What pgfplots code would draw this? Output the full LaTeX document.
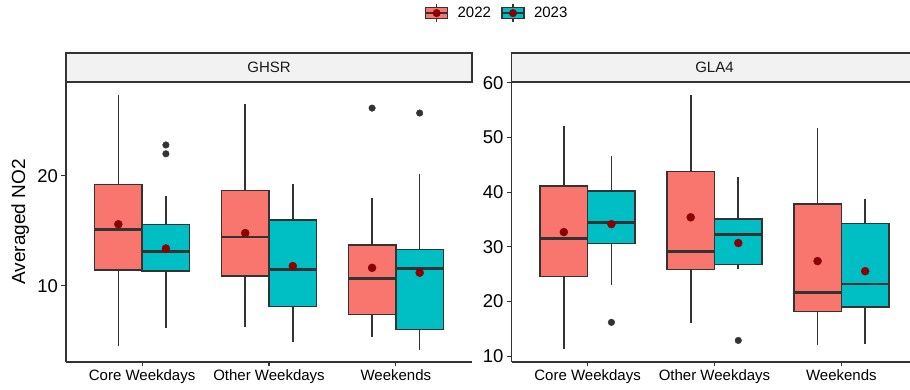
\documentclass[border=0pt]{standalone}
\usepackage{fontspec}
\setmainfont{Liberation Sans}
\usepackage{pgfplots}
\pgfplotsset{compat=1.18}
\usepgfplotslibrary{statistics}
\definecolor{c22}{HTML}{F8766D}
\definecolor{c23}{HTML}{00BFC4}
\definecolor{meanred}{HTML}{8B0000}
\definecolor{dgray}{HTML}{333333}
\definecolor{stripgray}{HTML}{F2F2F2}
\definecolor{txtgray}{HTML}{1A1A1A}

\pgfplotsset{
 facet/.style={
   scale only axis, width=406pt, height=280pt,
   clip=false,
   xmin=0.4, xmax=3.6, xtick={1,2,3},
   xticklabels={Core Weekdays,Other Weekdays,Weekends},
   axis x line*=bottom, axis y line*=left,
   axis line style={-, draw=dgray, line width=1.1pt},
   tick style={draw=dgray, line width=1.1pt},
   tick align=outside, major tick length=4.5pt,
   /pgf/number format/assume math mode=true,
   x tick label style={font=\fontsize{15}{18}\selectfont, text=black},
   y tick label style={font=\fontsize{18.5}{22}\selectfont, text=black},
   boxplot/draw direction=y,
   boxplot/box extend=0.375,
   boxplot/whisker extend=0,
   boxplot/every box/.style={draw=dgray, line width=1.5pt},
   boxplot/every whisker/.style={draw=dgray, line width=1.6pt},
   boxplot/every median/.style={draw=dgray, line width=2.8pt},
 },
 b22/.style={draw=dgray, line width=1.5pt, fill=c22, forget plot},
 b23/.style={draw=dgray, line width=1.5pt, fill=c23, forget plot},
 meanpt/.style={only marks, mark=*, mark size=4pt, color=meanred, forget plot},
 outpt/.style={only marks, mark=*, mark size=3.3pt, color=dgray, forget plot},
}

\begin{document}
\begin{tikzpicture}
\useasboundingbox (0,0) rectangle (910pt,390pt);
% ---------------- GHSR ----------------
\begin{axis}[facet, at={(66pt,28pt)}, anchor=south west,
  ymin=3.09, ymax=28.52, ytick={10,20},
  ylabel={Averaged NO2},
  ylabel style={font=\fontsize{19}{22}\selectfont, at={(axis description cs:-0.113,0.5)}, anchor=center},
  legend style={at={(1.0616,1.246)}, anchor=center, draw=none, fill=none,
    font=\fontsize{15}{18}\selectfont, legend columns=2,
    /tikz/every odd column/.append style={column sep=7pt},
    /tikz/every even column/.append style={column sep=8pt}},
  legend cell align=left]
\addplot[b22, boxplot prepared={draw position=0.8125, lower whisker=4.55, lower quartile=11.45, median=15.15, upper quartile=19.2, upper whisker=27.3}] coordinates {};
\addplot[b23, boxplot prepared={draw position=1.1875, lower whisker=6.15, lower quartile=11.36, median=13.1, upper quartile=15.6, upper whisker=18.2}] coordinates {};
\addplot[b22, boxplot prepared={draw position=1.8125, lower whisker=6.27, lower quartile=10.9, median=14.45, upper quartile=18.67, upper whisker=26.5}] coordinates {};
\addplot[b23, boxplot prepared={draw position=2.1875, lower whisker=4.9, lower quartile=8.13, median=11.5, upper quartile=16.0, upper whisker=19.25}] coordinates {};
\addplot[b22, boxplot prepared={draw position=2.8125, lower whisker=5.4, lower quartile=7.4, median=10.67, upper quartile=13.73, upper whisker=17.97}] coordinates {};
\addplot[b23, boxplot prepared={draw position=3.1875, lower whisker=4.2, lower quartile=6.03, median=11.6, upper quartile=13.3, upper whisker=20.2}] coordinates {};
\addplot[outpt] coordinates {(1.1875,22.8) (1.1875,22.0) (2.8125,26.15) (3.1875,25.7)};
\addplot[meanpt] coordinates {(0.8125,15.6) (1.1875,13.4) (1.8125,14.8) (2.1875,11.8) (2.8125,11.64) (3.1875,11.2)};
\draw[fill=stripgray, draw=dgray, line width=1.1pt] (rel axis cs:0,1) rectangle (rel axis cs:1,1.1036);
\node[font=\fontsize{15}{18}\selectfont, text=txtgray] at (rel axis cs:0.5,1.0518) {GHSR};
\addlegendimage{legend image code/.code={
  \draw[dgray, line width=1.2pt] (11pt,-9pt)--(11pt,9pt);
  \draw[dgray, line width=1.2pt, fill=c22] (0pt,-5.5pt) rectangle (22pt,5.5pt);
  \draw[dgray, line width=2pt] (0pt,0pt)--(22pt,0pt);
  \fill[meanred] (11pt,0pt) circle (3.8pt);}}
\addlegendentry{2022}
\addlegendimage{legend image code/.code={
  \draw[dgray, line width=1.2pt] (11pt,-9pt)--(11pt,9pt);
  \draw[dgray, line width=1.2pt, fill=c23] (0pt,-5.5pt) rectangle (22pt,5.5pt);
  \draw[dgray, line width=2pt] (0pt,0pt)--(22pt,0pt);
  \fill[meanred] (11pt,0pt) circle (3.8pt);}}
\addlegendentry{2023}
\end{axis}
% ---------------- GLA4 ----------------
\begin{axis}[facet, at={(511.5pt,28pt)}, anchor=south west,
  ymin=8.96, ymax=60.12, ytick={10,20,30,40,50,60}]
\addplot[b22, boxplot prepared={draw position=0.8125, lower whisker=11.28, lower quartile=24.57, median=31.5, upper quartile=41.1, upper whisker=52.07}] coordinates {};
\addplot[b23, boxplot prepared={draw position=1.1875, lower whisker=23.0, lower quartile=30.6, median=34.5, upper quartile=40.2, upper whisker=46.6}] coordinates {};
\addplot[b22, boxplot prepared={draw position=1.8125, lower whisker=16.1, lower quartile=25.85, median=29.2, upper quartile=43.8, upper whisker=57.7}] coordinates {};
\addplot[b23, boxplot prepared={draw position=2.1875, lower whisker=25.9, lower quartile=26.8, median=32.2, upper quartile=35.1, upper whisker=42.7}] coordinates {};
\addplot[b22, boxplot prepared={draw position=2.8125, lower whisker=12.13, lower quartile=18.2, median=21.65, upper quartile=37.8, upper whisker=51.7}] coordinates {};
\addplot[b23, boxplot prepared={draw position=3.1875, lower whisker=12.25, lower quartile=19.0, median=23.2, upper quartile=34.3, upper whisker=38.8}] coordinates {};
\addplot[outpt] coordinates {(1.1875,16.2) (2.1875,12.9)};
\addplot[meanpt] coordinates {(0.8125,32.7) (1.1875,34.15) (1.8125,35.4) (2.1875,30.7) (2.8125,27.4) (3.1875,25.55)};
\draw[fill=stripgray, draw=dgray, line width=1.1pt] (rel axis cs:0,1) rectangle (rel axis cs:1,1.1036);
\node[font=\fontsize{15}{18}\selectfont, text=txtgray] at (rel axis cs:0.5,1.0518) {GLA4};
\end{axis}
\end{tikzpicture}
\end{document}
